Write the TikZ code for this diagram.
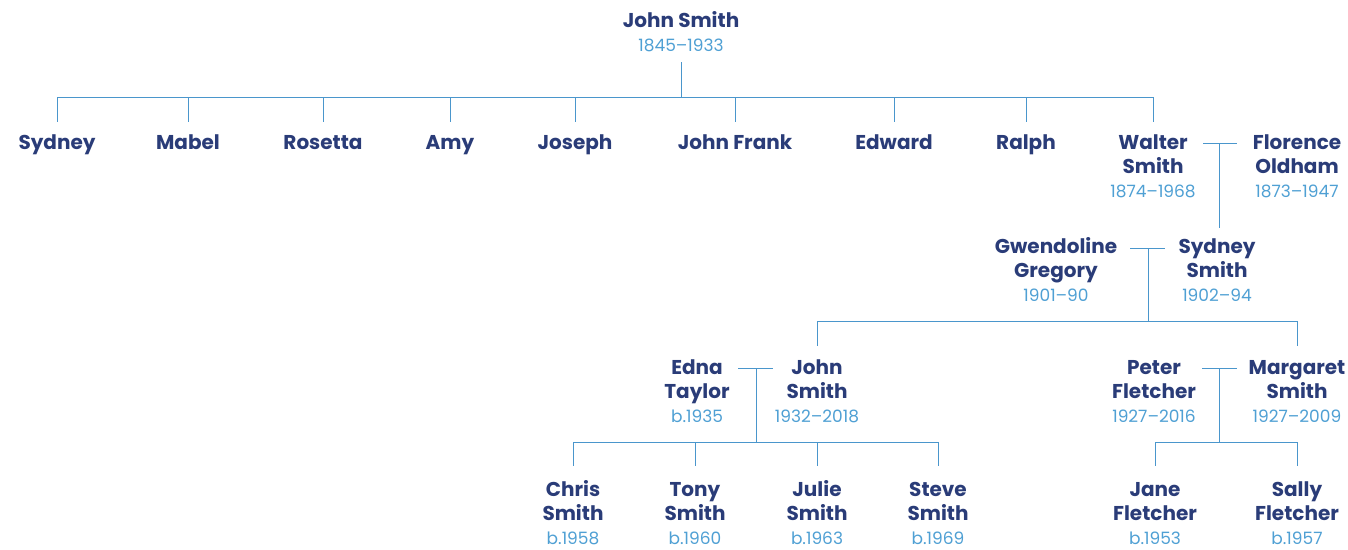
\documentclass[tikz,border=0pt]{standalone}
\usepackage{fontspec}
\usepackage{array}
\setmainfont{Poppins}
\definecolor{namec}{HTML}{2A3C78}
\definecolor{datec}{HTML}{4FA0D4}
\definecolor{linec}{HTML}{4A96CC}
\newcommand{\pname}[1]{\begin{tabular}[t]{@{}>{\bfseries\color{namec}}c@{}}#1\end{tabular}}
\newcommand{\pdate}[2]{\begin{tabular}[t]{@{}>{\bfseries\color{namec}}c@{}}#1\\ \mdseries\color{datec}\fontsize{17}{24}\selectfont #2\end{tabular}}
\tikzset{
  person/.style={inner sep=0pt, outer sep=0pt, anchor=base, font=\fontsize{20}{24}\selectfont},
  conn/.style={draw=linec, line width=1pt}
}
\begin{document}
\begin{tikzpicture}[x=1pt,y=-1pt]
\useasboundingbox[fill=white] (0,0) rectangle (1348,549);
% row 0
\node[person] (js) at (681,27) {\pdate{John Smith}{1845–1933}};
% row 1
\node[person] (sydney) at (57,149) {\pname{Sydney}};
\node[person] (mabel) at (188,149) {\pname{Mabel}};
\node[person] (rosetta) at (323,149) {\pname{Rosetta}};
\node[person] (amy) at (450,149) {\pname{Amy}};
\node[person] (joseph) at (575,149) {\pname{Joseph}};
\node[person] (johnf) at (735,149) {\pname{John Frank}};
\node[person] (edward) at (894,149) {\pname{Edward}};
\node[person] (ralph) at (1026,149) {\pname{Ralph}};
\node[person] (walter) at (1153,149) {\pdate{Walter\\Smith}{1874–1968}};
\node[person] (florence) at (1297,149) {\pdate{Florence\\Oldham}{1873–1947}};
% row 2
\node[person] (gwen) at (1056,253) {\pdate{Gwendoline\\Gregory}{1901–90}};
\node[person] (sydneys) at (1217,253) {\pdate{Sydney\\Smith}{1902–94}};
% row 3
\node[person] (edna) at (697,374) {\pdate{Edna\\Taylor}{b.1935}};
\node[person] (johns) at (817,374) {\pdate{John\\Smith}{1932–2018}};
\node[person] (peter) at (1154,374) {\pdate{Peter\\Fletcher}{1927–2016}};
\node[person] (margaret) at (1297,374) {\pdate{Margaret\\Smith}{1927–2009}};
% row 4
\node[person] (chris) at (573,496) {\pdate{Chris\\Smith}{b.1958}};
\node[person] (tony) at (695,496) {\pdate{Tony\\Smith}{b.1960}};
\node[person] (julie) at (817,496) {\pdate{Julie\\Smith}{b.1963}};
\node[person] (steve) at (938,496) {\pdate{Steve\\Smith}{b.1969}};
\node[person] (jane) at (1155,496) {\pdate{Jane\\Fletcher}{b.1953}};
\node[person] (sally) at (1297,496) {\pdate{Sally\\Fletcher}{b.1957}};

% connectors: John Smith's children
\coordinate (b0) at (681,97);
\draw[conn] (681,62) coordinate (js0) -- (b0);
\draw[conn] (sydney.north |- b0) -- (walter.north |- b0);
\foreach \n in {sydney,mabel,rosetta,amy,joseph,johnf,edward,ralph,walter}
  \draw[conn, shorten >=10pt] (\n.north |- b0) -- (\n.north);

% Walter + Florence
\coordinate (m1l) at (1203,143);
\coordinate (m1r) at (1237,143);
\coordinate (m1) at (1219,143);
\draw[conn] (m1l) -- (m1r);
\draw[conn, shorten >=8pt] (m1) -- (m1 |- sydneys.north);

% Gwendoline + Sydney
\coordinate (m2l) at (1130,248);
\coordinate (m2r) at (1165,248);
\coordinate (m2) at (1148,248);
\coordinate (b2) at (1148,321);
\draw[conn] (m2l) -- (m2r);
\draw[conn] (m2) -- (b2);
\draw[conn] (johns.north |- b2) -- (margaret.north |- b2);
\foreach \n in {johns,margaret}
  \draw[conn, shorten >=11pt] (\n.north |- b2) -- (\n.north);

% Edna + John
\coordinate (m3l) at (738,368);
\coordinate (m3r) at (773,368);
\coordinate (m3) at (756,368);
\coordinate (b3) at (756,442);
\draw[conn] (m3l) -- (m3r);
\draw[conn] (m3) -- (b3);
\draw[conn] (chris.north |- b3) -- (steve.north |- b3);
\foreach \n in {chris,tony,julie,steve}
  \draw[conn, shorten >=13pt] (\n.north |- b3) -- (\n.north);

% Peter + Margaret
\coordinate (m4l) at (1202,368);
\coordinate (m4r) at (1237,368);
\coordinate (m4) at (1219,368);
\coordinate (b4) at (1219,442);
\draw[conn] (m4l) -- (m4r);
\draw[conn] (m4) -- (b4);
\draw[conn] (jane.north |- b4) -- (sally.north |- b4);
\foreach \n in {jane,sally}
  \draw[conn, shorten >=13pt] (\n.north |- b4) -- (\n.north);
\end{tikzpicture}
\end{document}
